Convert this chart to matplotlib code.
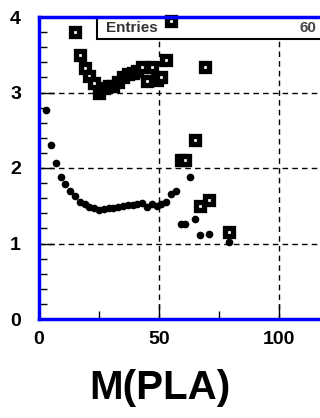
import matplotlib.pyplot as plt
from matplotlib.patches import Rectangle

plt.rcParams['font.family'] = ['Liberation Sans', 'DejaVu Sans']

# upper series (open squares)
sq_x = [15, 17, 19, 21, 23, 25, 27, 29, 31, 33, 35, 37, 39, 41, 43, 45, 47,
        49, 51, 53, 55, 59, 61, 65, 67, 69, 71, 79]
sq_y = [3.80, 3.50, 3.32, 3.22, 3.12, 3.00, 3.06, 3.08, 3.09, 3.14, 3.21, 3.24,
        3.26, 3.29, 3.34, 3.15, 3.34, 3.17, 3.21, 3.43, 3.95, 2.11, 2.11, 2.37,
        1.50, 3.34, 1.58, 1.15]

# lower series (small dots)
dot_x = [3, 5, 7, 9, 11, 13, 15, 17, 19, 21, 23, 25, 27, 29, 31, 33, 35, 37,
         39, 41, 43, 45, 47, 49, 51, 53, 55, 57, 59, 61, 63, 65, 67, 71, 79]
dot_y = [2.77, 2.30, 2.07, 1.88, 1.79, 1.70, 1.63, 1.55, 1.52, 1.49, 1.47, 1.45,
         1.46, 1.47, 1.47, 1.49, 1.50, 1.51, 1.51, 1.52, 1.53, 1.49, 1.52, 1.50,
         1.52, 1.55, 1.66, 1.69, 1.26, 1.26, 1.88, 1.32, 1.11, 1.13, 1.02]

entries = 60

fig = plt.figure(figsize=(3.2, 4.18), dpi=100)
# frame runs past the right edge of the picture (cropped)
ax = fig.add_axes([39 / 320, 99 / 418, 288 / 320, 302 / 418])

ax.set_xlim(0, 120)
ax.set_ylim(0, 4)

# grid, dashed
for gx in [50, 100]:
    ax.axvline(gx, color='black', lw=1, ls=(0, (4, 3)), zorder=1)
for gy in [1, 2, 3]:
    ax.axhline(gy, color='black', lw=1, ls=(0, (4, 3)), zorder=1)

# stats box
box = Rectangle((24.0, 3.705), 120, 0.30, facecolor='white', edgecolor='black',
                lw=1.5, zorder=2, clip_on=True)
ax.add_patch(box)
ax.text(28, 3.85, 'Entries', fontsize=11, fontweight='bold', color='#333333',
        va='center', ha='left', zorder=3)
ax.text(115.5, 3.85, str(entries), fontsize=11, fontweight='bold', color='#444444',
        va='center', ha='right', zorder=3)

ax.plot(dot_x, dot_y, 'o', ms=4.5, color='black', zorder=4)
ax.plot(sq_x, sq_y, 's', ms=5.2, mfc='white', mec='black', mew=3.8, zorder=5,
        clip_on=False)

for side in ['left', 'bottom', 'top']:
    ax.spines[side].set_color('#0000ff')
    ax.spines[side].set_linewidth(2.5)
    ax.spines[side].set_zorder(6)
ax.spines['right'].set_visible(False)

ax.set_xticks([0, 50, 100])
ax.set_xticks([25, 75], minor=True)
ax.set_yticks([0, 1, 2, 3, 4])
ax.set_yticks([y / 5 for y in range(0, 21)], minor=True)
ax.tick_params(direction='in', length=11, width=1, labelsize=14, pad=9,
               colors='black')
ax.tick_params(which='minor', direction='in', length=6, width=1)
ax.tick_params(axis='y', pad=13)
for lab in ax.get_xticklabels() + ax.get_yticklabels():
    lab.set_fontweight('bold')

fig.text(0.5, 0.072, 'M(PLA)', fontsize=29, fontweight='bold', ha='center',
         va='center')

fig.savefig('out.png', dpi=100)
